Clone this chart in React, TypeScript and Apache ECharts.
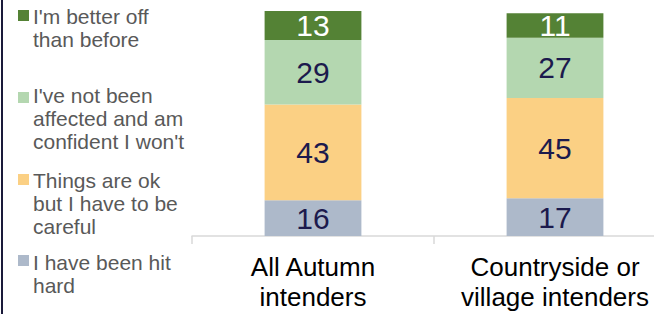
import React, { useEffect, useRef } from "react";
import * as echarts from "echarts";

const categories = ["All Autumn\nintenders", "Countryside or\nvillage intenders"];
const seriesNames = [
  "I have been hit\nhard",
  "Things are ok\nbut I have to be\ncareful",
  "I've not been\naffected and am\nconfident I won't",
  "I'm better off\nthan before",
];
const hitHard = [16, 17];
const thingsOk = [43, 45];
const notAffected = [29, 27];
const betterOff = [13, 11];
const seriesValues = [hitHard, thingsOk, notAffected, betterOff];
const colors = ["#adb9ca", "#fbd084", "#b4d7b0", "#548235"];
const labelColors = ["#1c1a4d", "#1c1a4d", "#1c1a4d", "#ffffff"];
// legend rows, top to bottom (series index) and their vertical positions
const legendOrder = [3, 2, 1, 0];
const legendTops = [5, 84, 168.5, 250.5];
const markerTops = [10, 92, 174, 255];

export default function App() {
  const ref = useRef<HTMLDivElement>(null);
  useEffect(() => {
    if (!ref.current) return;
    const chart = echarts.init(ref.current, null, { renderer: "svg" });
    const font = "Liberation Sans";
    const graphic: any[] = [
      {
        type: "rect",
        shape: { x: 1, y: 0, width: 2, height: 314 },
        style: { fill: "#1a1a3a" },
      },
    ];
    legendOrder.forEach((si, i) => {
      graphic.push({
        type: "rect",
        shape: { x: 18, y: markerTops[i], width: 11, height: 11 },
        style: { fill: colors[si] },
      });
      graphic.push({
        type: "text",
        x: 33,
        y: legendTops[i],
        style: {
          text: seriesNames[si],
          fill: "#595959",
          fontSize: 21,
          fontFamily: font,
          lineHeight: 23,
          verticalAlign: "top",
          align: "left",
        },
      });
    });
    chart.setOption({
      animation: false,
      grid: { left: 192, top: 11, width: 484, height: 225, outerBoundsMode: "none", containLabel: false },
      xAxis: {
        type: "category",
        data: categories,
        axisLine: { show: true, lineStyle: { color: "#d9d9d9", width: 1.5 } },
        axisTick: { show: true, length: 8, lineStyle: { color: "#d9d9d9", width: 1.5 } },
        axisLabel: {
          color: "#000000",
          fontSize: 26,
          lineHeight: 30,
          fontFamily: font,
          margin: 16,
          interval: 0,
          hideOverlap: false,
        },
      },
      yAxis: { type: "value", min: 0, max: 101, show: false },
      graphic,
      series: seriesValues.map((vals, i) => ({
        type: "bar",
        name: seriesNames[i],
        stack: "total",
        data: vals,
        barWidth: "40%",
        itemStyle: { color: colors[i] },
        label: {
          show: true,
          position: "inside",
          color: labelColors[i],
          fontSize: 30,
          fontFamily: font,
        },
      })),
    });
    return () => chart.dispose();
  }, []);
  return (
    <div
      ref={ref}
      style={{ position: "fixed", left: 0, top: 0, width: 654, height: 314, background: "#fff" }}
    />
  );
}
